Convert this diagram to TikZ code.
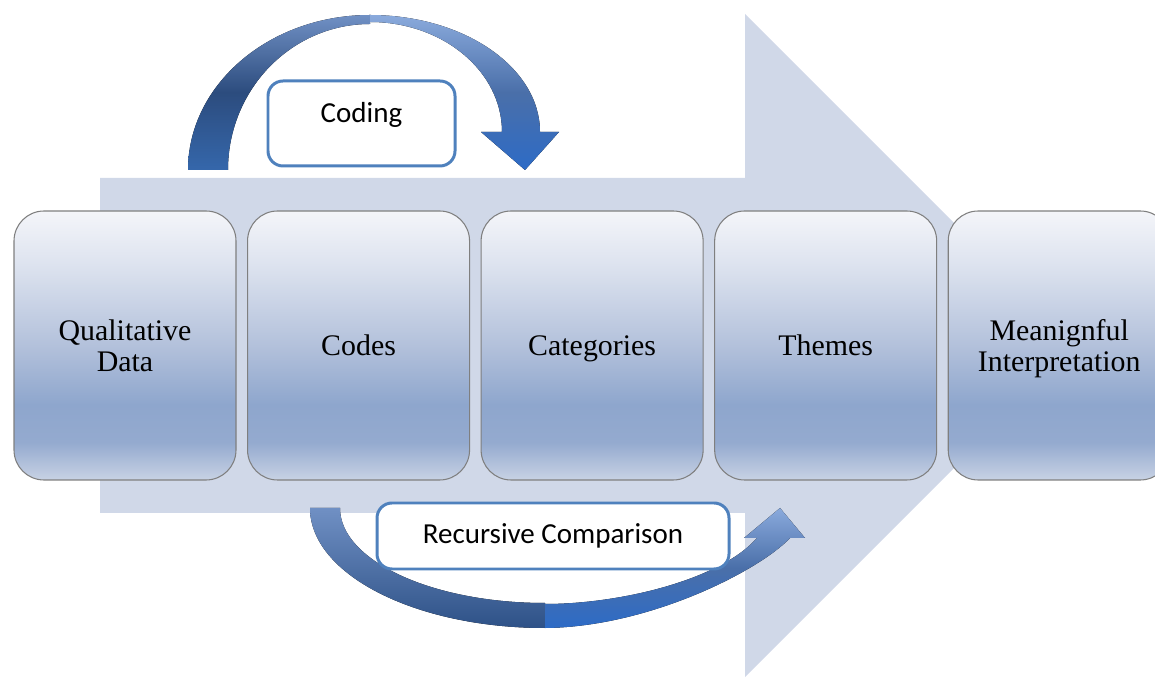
\documentclass[tikz,border=0pt]{standalone}
\usepackage{fontspec}
\setmainfont{Liberation Serif}
\newfontfamily\labelfont{Carlito}
\usetikzlibrary{positioning}

\definecolor{flowbg}{HTML}{D0D8E8}
\definecolor{tagblue}{HTML}{4F81BD}
\definecolor{stageedge}{HTML}{7F7F7F}
\definecolor{st0}{HTML}{F4F5F9}
\definecolor{st1}{HTML}{DDE3EF}
\definecolor{st2}{HTML}{B3C1DB}
\definecolor{st3}{HTML}{8EA6CD}
\definecolor{st4}{HTML}{94AACF}
\definecolor{st5}{HTML}{C8D2E4}
% curved arrow tones
\definecolor{backtop}{HTML}{7090C4}
\definecolor{backmid}{HTML}{2C4C7E}
\definecolor{backbot}{HTML}{3567AB}
\definecolor{fronttop}{HTML}{8AAADC}
\definecolor{frontmid}{HTML}{4A6FA9}
\definecolor{frontbot}{HTML}{2D6BC6}

% glossy fill of the stage boxes (0bp = bottom)
\pgfdeclareverticalshading{stagefill}{100bp}{color(0bp)=(st5); color(25bp)=(st5);
  color(32bp)=(st4); color(39bp)=(st3); color(50bp)=(st2); color(65bp)=(st1);
  color(75bp)=(st0); color(100bp)=(st0)}

\tikzset{
  stage/.style={draw=stageedge, line width=0.6pt, rounded corners=0.6cm,
    shading=stagefill, minimum width=4.44cm, minimum height=5.38cm,
    inner sep=0pt, text depth=0pt, align=center,
    font=\fontsize{17}{17.5}\selectfont},
  tag/.style={draw=tagblue, line width=1.7pt, fill=white, rounded corners=0.3cm,
    font=\labelfont\fontsize{16.5}{18}\selectfont},
  backhalf/.style={top color=backtop, bottom color=backbot, middle color=backmid},
  fronthalf/.style={top color=fronttop, bottom color=frontbot, middle color=frontmid}
}

\begin{document}
\begin{tikzpicture}
\useasboundingbox (0,0) rectangle (23.1,13.54);

% big process arrow behind the stages
\fill[flowbg] (2,3.28) -- (14.9,3.28) -- (14.9,0) -- (21.53,6.63)
  -- (14.9,13.26) -- (14.9,9.98) -- (2,9.98) -- cycle;

% curved arrow over the top -- back half, then front half with head
\fill[backhalf]
  (3.76,10.14) arc[start angle=180, end angle=90, x radius=3.64, y radius=3.1]
  -- (7.4,13.06) arc[start angle=90, end angle=180, x radius=2.84, y radius=2.92]
  -- cycle;
\fill[fronthalf]
  (7.4,13.24) arc[start angle=90, end angle=0, x radius=3.4, y radius=2.34]
  -- (11.18,10.9) -- (10.5,10.14) -- (9.62,10.9) -- (10.04,10.9)
  arc[start angle=0, end angle=90, x radius=2.64, y radius=2.2] -- cycle;

% curved arrow underneath
\fill[backhalf, bottom color=backmid!80!backbot]
  (6.2,3.38) arc[start angle=180, end angle=270, x radius=4.7, y radius=2.4]
  -- (10.9,1.48) arc[start angle=270, end angle=180, x radius=4.1, y radius=1.9]
  -- cycle;
\fill[fronthalf]
  (10.9,0.98) .. controls (13.0,1.0) and (15.2,2.14) .. (15.8,2.78)
  -- (16.1,2.78) -- (15.6,3.38) -- (14.88,2.78) -- (15.14,2.78)
  .. controls (14.4,1.94) and (12.4,1.46) .. (10.9,1.46) -- cycle;

% stages
\node[stage] (data) at (2.5,6.63) {Qualitative\\Data};
\node[stage, right=0.21cm of data] (codes) {Codes};
\node[stage, right=0.21cm of codes] (cats) {Categories};
\node[stage, right=0.21cm of cats] (themes) {Themes};
\node[stage, right=0.21cm of themes] (meaning) {Meanignful\\Interpretation};

% labels on the curved arrows
\node[tag, minimum width=3.74cm, minimum height=1.7cm, text depth=0.45cm] (coding) at (7.23,11.07) {Coding};
\node[tag, minimum width=7.04cm, minimum height=1.32cm] (recur) at (11.06,2.82) {Recursive Comparison};
\end{tikzpicture}
\end{document}
